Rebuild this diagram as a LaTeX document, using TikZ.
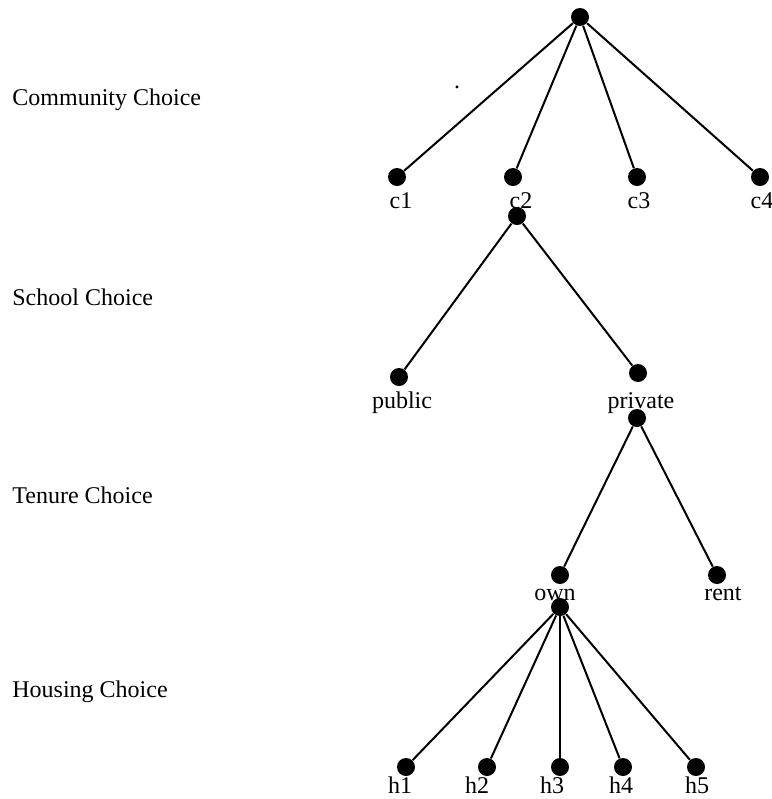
\documentclass[tikz,border=0pt,12pt]{standalone}
\usepackage{fontspec}
\setmainfont{Liberation Serif}
\tikzset{dot/.style={circle,fill,draw=none,inner sep=0pt,minimum size=9pt},
         choice/.style={anchor=base,inner sep=0pt},
         stage/.style={anchor=base west,inner sep=0pt},
         branch/.style={line width=1pt},
         }
\begin{document}
\begin{tikzpicture}[x=0.5pt,y=-0.5pt]
\useasboundingbox (0,0) rectangle (772,799);
% stage names on the left
\node[stage] (community) at (12,105) {Community Choice};
\node[stage] (school) at (12,305) {School Choice};
\node[stage] (tenure) at (12,503) {Tenure Choice};
\node[stage] (housing) at (12,697) {Housing Choice};
\node[choice] (stray) at (457,88) {.};
% option labels
\foreach \n/\x in {c1/401,c2/521,c3/639,c4/762}
  \node[choice] (t\n) at (\x,208) {\n};
\node[choice] (tpublic) at (402,408) {public};
\node[choice] (tprivate) at (641,408) {private};
\node[choice] (town) at (555,600) {own};
\node[choice] (trent) at (723,600) {rent};
\foreach \n/\x in {h1/400,h2/477,h3/552,h4/621,h5/697}
  \node[choice] (t\n) at (\x,793) {\n};
% dots
\node[dot] (root) at (580,17) {};
\foreach \n/\x in {c1/397,c2/513,c3/637,c4/760}
  \node[dot] (\n) at (\x,177) {};
\node[dot] (c2b) at (517,216) {};
\node[dot] (public) at (399,377) {};
\node[dot] (private) at (638,373) {};
\node[dot] (privateb) at (637,418) {};
\node[dot] (own) at (560,575) {};
\node[dot] (rent) at (717,575) {};
\node[dot] (ownb) at (560,607) {};
\foreach \n/\x in {h1/406,h2/487,h3/560,h4/623,h5/696}
  \node[dot] (\n) at (\x,767) {};
% branches
\foreach \n in {c1,c2,c3,c4}
  \draw[branch] (root) -- (\n);
\draw[branch] (c2b) -- (public);
\draw[branch] (c2b) -- (private);
\draw[branch] (privateb) -- (own);
\draw[branch] (privateb) -- (rent);
\foreach \n in {h1,h2,h3,h4,h5}
  \draw[branch] (ownb) -- (\n);
\end{tikzpicture}
\end{document}
